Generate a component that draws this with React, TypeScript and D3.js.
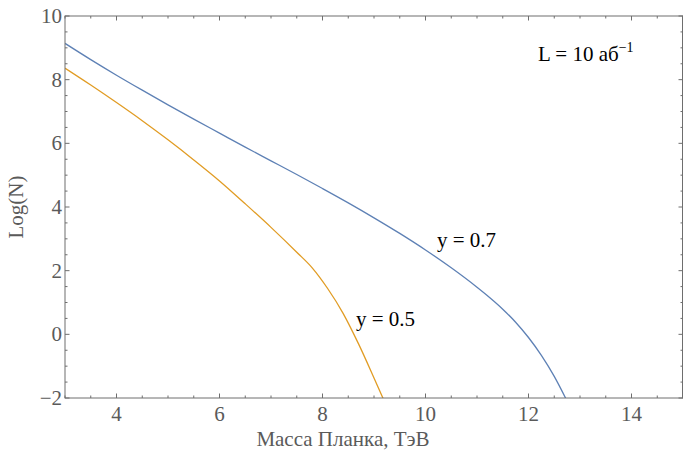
import React from "react";
import * as d3 from "d3";

// curve y = 0.7 (blue)
const blueMass = [3, 3.5, 4, 4.5, 5, 5.5, 6, 6.5, 7, 7.5, 8, 8.5, 9, 9.5, 10, 10.5, 11, 11.25, 11.5, 11.75, 12, 12.25, 12.5, 12.75];
const blueLogN = [9.14, 8.63, 8.14, 7.67, 7.21, 6.76, 6.32, 5.88, 5.45, 5.02, 4.58, 4.13, 3.66, 3.17, 2.65, 2.09, 1.48, 1.15, 0.79, 0.38, -0.1, -0.66, -1.32, -2.1];

// curve y = 0.5 (orange)
const orangeMass = [3, 3.5, 4, 4.5, 5, 5.5, 6, 6.5, 7, 7.5, 7.8, 8.1, 8.4, 8.7, 9, 9.2];
const orangeLogN = [8.36, 7.83, 7.28, 6.71, 6.11, 5.48, 4.82, 4.1, 3.36, 2.58, 2.09, 1.44, 0.66, -0.3, -1.37, -2.1];

const xTicks = [4, 6, 8, 10, 12, 14];
const yTicks = [-2, 0, 2, 4, 6, 8, 10];

const width = 683;
const height = 456;
const margin = { left: 65, right: 0, top: 16, bottom: 58 };

const frameColor = "#6e6e6e";
const labelColor = "#5a5a5a";
const font = "'Liberation Serif', 'Times New Roman', serif";

const App = () => {
  const x = d3.scaleLinear().domain([3, 15]).range([margin.left, width - margin.right]);
  const y = d3.scaleLinear().domain([-2, 10]).range([height - margin.bottom, margin.top]);

  const line = d3
    .line<[number, number]>()
    .x((d) => x(d[0]))
    .y((d) => y(d[1]))
    .curve(d3.curveMonotoneX);

  const bluePath = line(blueMass.map((m, i) => [m, blueLogN[i]]));
  const orangePath = line(orangeMass.map((m, i) => [m, orangeLogN[i]]));

  const x0 = x(3);
  const x1 = x(15);
  const y0 = y(-2);
  const y1 = y(10);

  const xMinor = d3.range(3, 15.01, 0.5);
  const yMinor = d3.range(-2, 10.01, 0.5);

  return (
    <div style={{ position: "fixed", left: 0, top: 0 }}>
      <svg width={width} height={height} style={{ display: "block", background: "#fff" }}>
        <defs>
          <clipPath id="plot">
            <rect x={x0} y={y1} width={x1 - x0} height={y0 - y1} />
          </clipPath>
        </defs>

        <g clipPath="url(#plot)" fill="none" strokeWidth={1.3}>
          <path d={bluePath || ""} stroke="#5e81b5" />
          <path d={orangePath || ""} stroke="#e19c24" />
        </g>

        {/* frame ticks */}
        <g stroke={frameColor} strokeWidth={1}>
          {xMinor.map((t) => {
            const len = t % 2 === 0 ? 4.5 : 2.5;
            return (
              <g key={"xt" + t}>
                <line x1={x(t)} x2={x(t)} y1={y0} y2={y0 - len} />
                <line x1={x(t)} x2={x(t)} y1={y1} y2={y1 + len} />
              </g>
            );
          })}
          {yMinor.map((t) => {
            const len = t % 2 === 0 ? 4.5 : 2.5;
            return (
              <g key={"yt" + t}>
                <line x1={x0} x2={x0 + len} y1={y(t)} y2={y(t)} />
                <line x1={x1} x2={x1 - len} y1={y(t)} y2={y(t)} />
              </g>
            );
          })}
          <rect x={x0} y={y1} width={x1 - x0 - 0.5} height={y0 - y1} fill="none" />
        </g>

        {/* tick labels */}
        <g fontFamily={font} fontSize={21} fill={labelColor}>
          {xTicks.map((t) => (
            <text key={"xl" + t} x={x(t)} y={y0 + 23} textAnchor="middle">
              {t}
            </text>
          ))}
          {yTicks.map((t) => (
            <text key={"yl" + t} x={x0 - 3} y={y(t)} dy="0.34em" textAnchor="end">
              {t < 0 ? "\u2212" + Math.abs(t) : t}
            </text>
          ))}
        </g>

        {/* axis labels */}
        <g fontFamily={font} fontSize={21} fill={labelColor}>
          <text x={343} y={446} textAnchor="middle">
            Масса Планка, ТэВ
          </text>
          <text transform={`translate(23, ${(y0 + y1) / 2}) rotate(-90)`} textAnchor="middle">
            Log(N)
          </text>
        </g>

        {/* annotations */}
        <g fontFamily={font} fontSize={21} fill="#000">
          <text x={538} y={61}>
            L = 10 аб
            <tspan fontSize={14} dy={-9}>
              {"\u22121"}
            </tspan>
          </text>
          <text x={437} y={247}>
            y = 0.7
          </text>
          <text x={356} y={326}>
            y = 0.5
          </text>
        </g>
      </svg>
    </div>
  );
};

export default App;
